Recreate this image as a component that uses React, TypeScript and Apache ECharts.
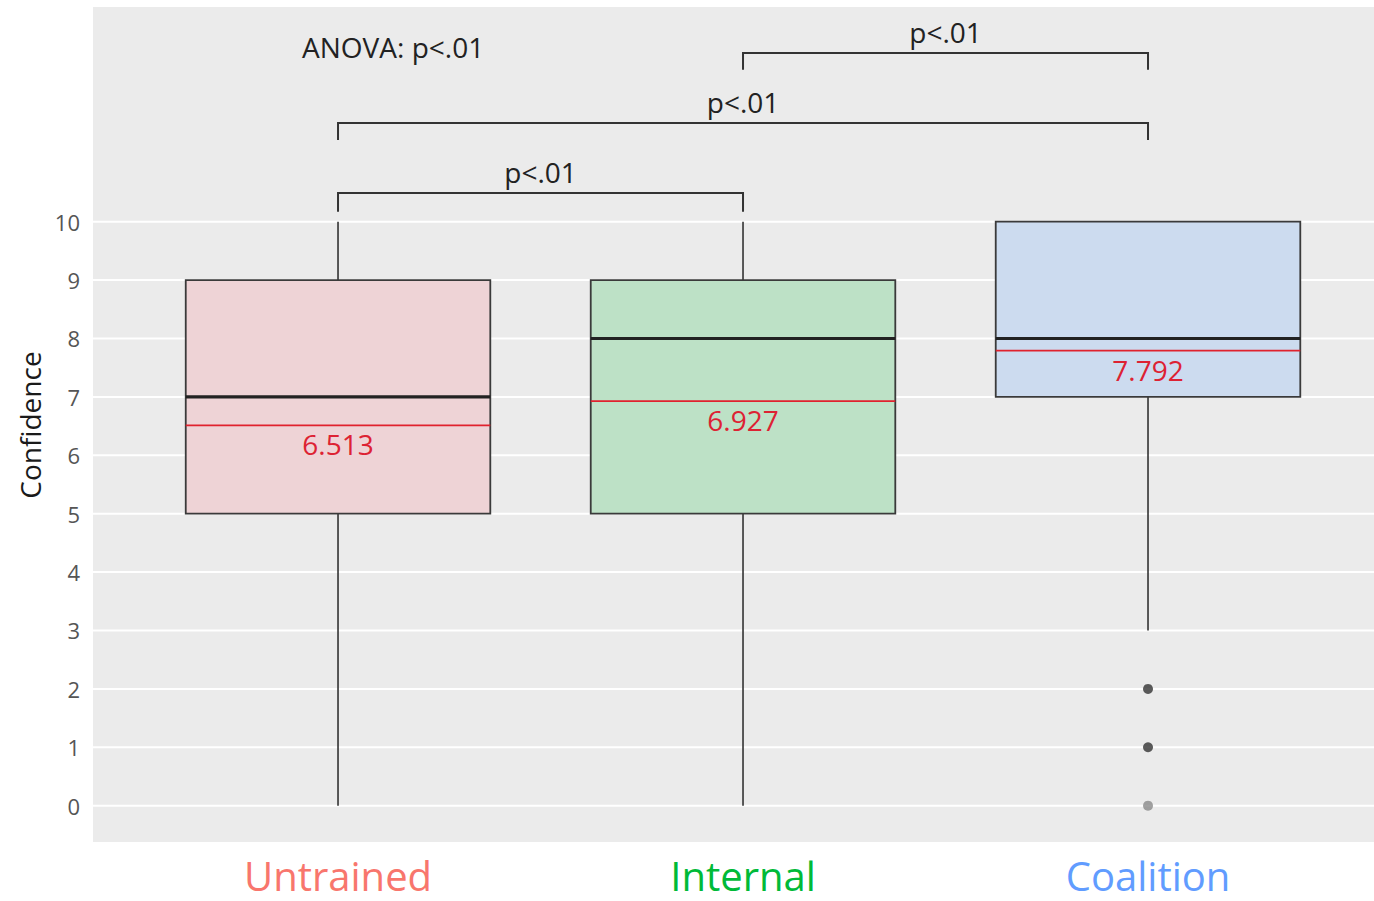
import React, { useEffect, useRef } from "react";
import * as echarts from "echarts";

// ---- data ----
const categories = ["Untrained", "Internal", "Coalition"];
const categoryColors = ["#F8766D", "#00BA38", "#619CFF"];
const boxFills = ["#EED3D6", "#BDE1C6", "#CCDBEF"];
const whiskerLow = [0, 0, 3];
const q1 = [5, 5, 7];
const medians = [7, 8, 8];
const q3 = [9, 9, 10];
const whiskerHigh = [10, 10, 10];
const means = [6.513, 6.927, 7.792];
const outliers = [
  [2, 2],
  [2, 1],
  [2, 0],
];
const outlierColors = ["#333333", "#333333", "#8a8a8a"];
const yTicks = [0, 1, 2, 3, 4, 5, 6, 7, 8, 9, 10];
const comparisonFrom = [0, 0, 1];
const comparisonTo = [1, 2, 2];
const comparisonY = [10.49, 11.69, 12.89];
const comparisonTickEnd = [10.17, 11.4, 12.6];
const comparisonLabels = ["p<.01", "p<.01", "p<.01"];
const anovaLabel = "ANOVA: p<.01";
const anovaPos = [0.136, 12.99];

const FONT = "'Open Sans', 'Noto Sans', sans-serif";
const X_MIN = -0.605;
const X_MAX = 2.558;
const Y_MIN = -0.622;
const Y_MAX = 13.676;
const BOX_HALF = 0.376;

export default function App() {
  const ref = useRef<HTMLDivElement>(null);

  useEffect(() => {
    if (!ref.current) return;
    const chart = echarts.init(ref.current, null, { renderer: "svg" });

    const boxData = categories.map((_, i) => [
      i,
      whiskerLow[i],
      q1[i],
      medians[i],
      q3[i],
      whiskerHigh[i],
      means[i],
    ]);

    const option: any = {
      animation: false,
      grid: {
        left: 93,
        right: 0,
        top: 7,
        bottom: 59,
        show: true,
        backgroundColor: "#EBEBEB",
        borderWidth: 0,
      },
      xAxis: {
        type: "value",
        min: X_MIN,
        max: X_MAX,
        show: false,
      },
      yAxis: {
        type: "value",
        min: Y_MIN,
        max: Y_MAX,
        show: false,
      },
      series: [
        // grid lines + y tick labels
        {
          type: "custom",
          z: 1,
          silent: true,
          data: yTicks.map((t) => [0, t]),
          renderItem: (params: any, api: any) => {
            const v = api.value(1);
            const p = api.coord([0, v]);
            const cs = params.coordSys;
            return {
              type: "group",
              children: [
                {
                  type: "line",
                  shape: { x1: cs.x, y1: p[1], x2: cs.x + cs.width, y2: p[1] },
                  style: { stroke: "#ffffff", lineWidth: 2 },
                },
                {
                  type: "text",
                  x: cs.x - 13,
                  y: p[1],
                  style: {
                    text: String(v),
                    font: `22px ${FONT}`,
                    fill: "#555555",
                    align: "right",
                    verticalAlign: "middle",
                  },
                },
              ],
            };
          },
        },
        // boxes
        {
          type: "custom",
          z: 3,
          silent: true,
          data: boxData,
          renderItem: (params: any, api: any) => {
            const i = api.value(0);
            const lo = api.value(1);
            const a = api.value(2);
            const m = api.value(3);
            const b = api.value(4);
            const hi = api.value(5);
            const mean = api.value(6);
            const left = api.coord([i - BOX_HALF, b]);
            const right = api.coord([i + BOX_HALF, a]);
            const cx = api.coord([i, 0])[0];
            const yLo = api.coord([i, lo])[1];
            const yQ1 = api.coord([i, a])[1];
            const yMed = api.coord([i, m])[1];
            const yQ3 = api.coord([i, b])[1];
            const yHi = api.coord([i, hi])[1];
            const yMean = api.coord([i, mean])[1];
            const idx = params.dataIndex;
            return {
              type: "group",
              children: [
                {
                  type: "line",
                  shape: { x1: cx, y1: yHi, x2: cx, y2: yQ3 },
                  style: { stroke: "#333333", lineWidth: 1.6 },
                },
                {
                  type: "line",
                  shape: { x1: cx, y1: yQ1, x2: cx, y2: yLo },
                  style: { stroke: "#333333", lineWidth: 1.6 },
                },
                {
                  type: "rect",
                  shape: {
                    x: left[0],
                    y: yQ3,
                    width: right[0] - left[0],
                    height: yQ1 - yQ3,
                  },
                  style: {
                    fill: boxFills[idx],
                    stroke: "#3a3a3a",
                    lineWidth: 1.8,
                  },
                },
                {
                  type: "line",
                  shape: { x1: left[0], y1: yMed, x2: right[0], y2: yMed },
                  style: { stroke: "#222222", lineWidth: 3.2 },
                },
                {
                  type: "line",
                  shape: { x1: left[0], y1: yMean, x2: right[0], y2: yMean },
                  style: { stroke: "#E0222E", lineWidth: 1.8 },
                },
                {
                  type: "text",
                  x: cx,
                  y: yMean + 19,
                  style: {
                    text: means[idx].toFixed(3),
                    font: `28px ${FONT}`,
                    fill: "#DD2233",
                    align: "center",
                    verticalAlign: "middle",
                  },
                },
              ],
            };
          },
        },
        // outliers
        {
          type: "scatter",
          z: 4,
          silent: true,
          symbol: "circle",
          symbolSize: 10,
          data: outliers.map((o, k) => ({
            value: o,
            itemStyle: { color: outlierColors[k] },
          })),
        },
        // comparison brackets
        {
          type: "custom",
          z: 5,
          silent: true,
          data: comparisonFrom.map((f, k) => [
            f,
            comparisonY[k],
            comparisonTo[k],
            comparisonTickEnd[k],
          ]),
          renderItem: (params: any, api: any) => {
            const f = api.value(0);
            const y = api.value(1);
            const t = api.value(2);
            const ye = api.value(3);
            const p1 = api.coord([f, ye]);
            const p2 = api.coord([f, y]);
            const p3 = api.coord([t, y]);
            const p4 = api.coord([t, ye]);
            const mid = api.coord([(f + t) / 2, y]);
            return {
              type: "group",
              children: [
                {
                  type: "polyline",
                  shape: { points: [p1, p2, p3, p4] },
                  style: { stroke: "#333333", lineWidth: 2, fill: "none" },
                },
                {
                  type: "text",
                  x: mid[0],
                  y: mid[1] - 21,
                  style: {
                    text: comparisonLabels[params.dataIndex],
                    font: `28px ${FONT}`,
                    fill: "#222222",
                    align: "center",
                    verticalAlign: "middle",
                  },
                },
              ],
            };
          },
        },
        // ANOVA label
        {
          type: "custom",
          z: 5,
          silent: true,
          data: [anovaPos],
          renderItem: (params: any, api: any) => {
            const p = api.coord([api.value(0), api.value(1)]);
            return {
              type: "text",
              x: p[0],
              y: p[1],
              style: {
                text: anovaLabel,
                font: `28px ${FONT}`,
                fill: "#222222",
                align: "center",
                verticalAlign: "middle",
              },
            };
          },
        },
      ],
    };

    chart.setOption(option);

    // category labels and y-axis title, placed from the axis scale
    const labelGraphics = categories.map((name, i) => {
      const p = chart.convertToPixel({ xAxisIndex: 0, yAxisIndex: 0 }, [i, Y_MIN]) as number[];
      return {
        type: "text",
        x: p[0],
        y: p[1] + 33,
        style: {
          text: name,
          font: `40px ${FONT}`,
          fill: categoryColors[i],
          align: "center",
          verticalAlign: "middle",
        },
      };
    });
    chart.setOption({
      graphic: [
        {
          type: "text",
          x: 30,
          y: 425,
          rotation: Math.PI / 2,
          style: {
            text: "Confidence",
            font: `28px ${FONT}`,
            fill: "#1a1a1a",
            align: "center",
            verticalAlign: "middle",
          },
        },
        ...labelGraphics,
      ],
    });

    return () => chart.dispose();
  }, []);

  return (
    <div
      ref={ref}
      style={{
        position: "absolute",
        left: 0,
        top: 0,
        width: 1374,
        height: 901,
        background: "#ffffff",
      }}
    />
  );
}
